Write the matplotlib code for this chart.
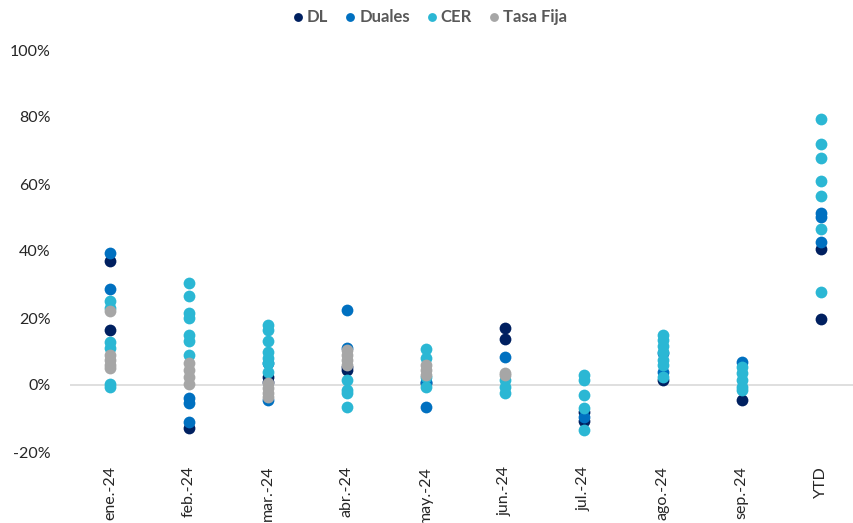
import matplotlib
matplotlib.use("Agg")
import matplotlib.pyplot as plt
from matplotlib.ticker import FuncFormatter

categories = ["ene.-24", "feb.-24", "mar.-24", "abr.-24", "may.-24",
              "jun.-24", "jul.-24", "ago.-24", "sep.-24", "YTD"]

# returns (%) per category, one list per category
dl = [[37, 16.5], [-12.8], [2.5, 1], [4.5, 5.5], [0.5],
      [17, 13.8], [-8, -10.7], [1.5], [-4.5], [40.5, 19.7]]
duales = [[39.4, 28.7], [-4, -5.5, -11], [6.5, -4.5], [22.4, 11], [1, -6.5],
          [8.5], [-9.5], [9.5, 4], [7], [51.3, 50.2, 42.7]]
cer = [[25.2, 23, 12.9, 11, 0.3, -0.5],
       [30.5, 26.6, 21.5, 20, 15, 13, 9],
       [18, 16.5, 13, 10, 8, 6.5, 4],
       [1.5, -1.5, -2.5, -6.5],
       [10.7, 8, 2.5, -0.5],
       [1.5, -0.5, -2.5],
       [3, 1.5, -3, -7, -13.4],
       [15, 13.5, 11.5, 10, 7.5, 6, 2.5],
       [5.5, 3.5, 1.5, -0.5, -1.5],
       [79.3, 72, 67.7, 61, 56.4, 46.5, 27.8]]
tasa_fija = [[22, 9, 7.5, 6, 5], [6.5, 4.5, 2.5, 0.3], [0.5, -1, -2.5, -3.5],
             [10.5, 9, 7.5, 6], [6, 4.5, 3], [3.5, 3], [], [], [], []]

series = [("DL", dl, "#002060"), ("Duales", duales, "#0070C0"),
          ("CER", cer, "#2BB7D4"), ("Tasa Fija", tasa_fija, "#A6A6A6")]

plt.rcParams["font.family"] = ["Lato", "DejaVu Sans"]

fig = plt.figure(figsize=(8.54, 5.23), dpi=100)
ax = fig.add_axes([70 / 854, 1 - 452 / 523, 784 / 854, (452 - 50) / 523])

for name, vals, color in series:
    xs = [i for i, v in enumerate(vals) for _ in v]
    ys = [y for v in vals for y in v]
    ax.scatter(xs, ys, s=72, color=color, label=name, zorder=3, linewidths=0)

ax.axhline(0, color="#D9D9D9", lw=1.2, zorder=1)
ax.set_ylim(-20, 100)
ax.set_yticks(range(-20, 101, 20))
ax.yaxis.set_major_formatter(FuncFormatter(lambda v, p: f"{v:.0f}%"))
ax.set_xlim(-0.506, 9.42)
ax.set_xticks(range(len(categories)))
ax.set_xticklabels(categories, rotation=90)
ax.tick_params(axis="both", length=0, labelsize=11.5, colors="#262626")
ax.tick_params(axis="y", pad=14)
ax.tick_params(axis="x", pad=10)
for s in ax.spines.values():
    s.set_visible(False)

leg = ax.legend(loc="upper center", bbox_to_anchor=(0.459, 1.14), ncol=4,
                frameon=False, handlelength=0.6, handletextpad=0.25,
                columnspacing=1.0, markerscale=0.75,
                prop={"weight": "bold", "size": 12})
for t in leg.get_texts():
    t.set_color("#595959")

fig.savefig("out.png", dpi=100)
